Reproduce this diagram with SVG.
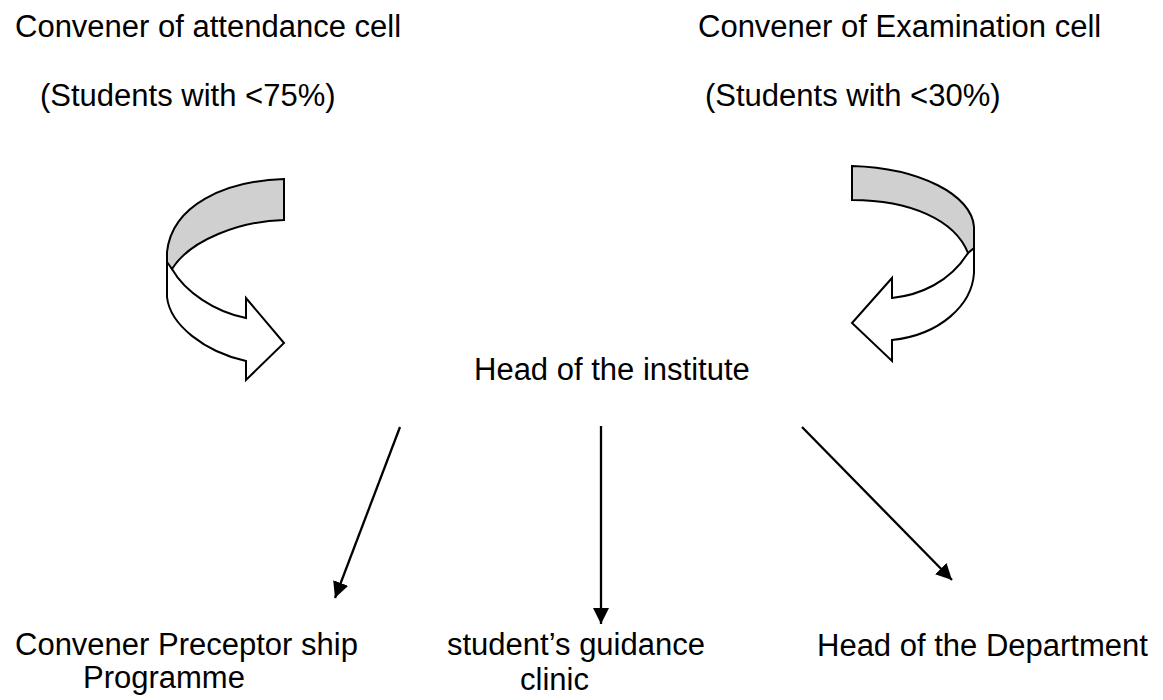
<svg xmlns="http://www.w3.org/2000/svg" width="1163" height="700" viewBox="0 0 1163 700">
<style>
.t{font-family:"Liberation Sans",Arial,sans-serif;font-size:31px;fill:#000}
.band{stroke:#000;stroke-width:2;stroke-linejoin:miter}
.back{fill:#d0d0d0}
.front{fill:#fff}
.conn{stroke:#000;stroke-width:2.3;fill:none}
</style>
<defs>
<marker id="ah" markerUnits="userSpaceOnUse" markerWidth="17" markerHeight="16" refX="16" refY="8" orient="auto">
<path d="M0,0 L16,8 L0,16 Z" fill="#000"/>
</marker>
</defs>
<rect width="1163" height="700" fill="#fff"/>

<g id="attendance">
<text class="t" x="15" y="37">Convener of attendance cell</text>
<text class="t" x="40" y="106">(Students with &lt;75%)</text>
</g>
<g id="examination">
<text class="t" x="698" y="37">Convener of Examination cell</text>
<text class="t" x="705" y="106">(Students with &lt;30%)</text>
</g>

<g id="curved-left">
<path class="band front" d="M167,255 L167,297 C170,325 205,352 246,361 L246,380 L284,343 L246,298 L246,318 C215,312 185,292 172,269 Z"/>
<path class="band back" d="M284,179 C225,181 172,205 167,252 L167,262 L172,269 C190,240 240,221 284,220 Z"/>
</g>
<g id="curved-right">
<path class="band front" d="M974,230 L974,273 C972,305 940,335 892,340 L892,361 L852,323 L892,278 L892,298 C920,295 950,282 968,253 Z"/>
<path class="band back" d="M852,166 C920,168 972,195 974,227 L974,248 L968,253 C955,220 910,200 852,200 Z"/>
</g>

<g id="head-institute">
<text class="t" x="474" y="380">Head of the institute</text>
</g>

<g id="connectors">
<line class="conn" x1="400" y1="427" x2="335" y2="598" marker-end="url(#ah)"/>
<line class="conn" x1="601" y1="426" x2="601" y2="624" marker-end="url(#ah)"/>
<line class="conn" x1="802" y1="427" x2="952" y2="580" marker-end="url(#ah)"/>
</g>

<g id="preceptorship">
<text class="t" x="15" y="655">Convener Preceptor ship</text>
<text class="t" x="83" y="688">Programme</text>
</g>
<g id="guidance">
<text class="t" x="447" y="655">student’s guidance</text>
<text class="t" x="520" y="690">clinic</text>
</g>
<g id="head-department">
<text class="t" x="817" y="656">Head of the Department</text>
</g>
</svg>
